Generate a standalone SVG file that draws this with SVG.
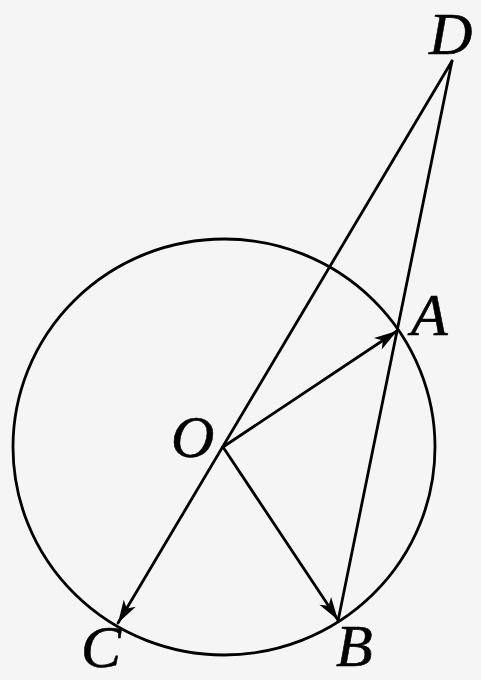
<svg xmlns="http://www.w3.org/2000/svg" width="481" height="680" viewBox="0 0 481 680">
<defs>
<style>
.ln{stroke:#000;stroke-width:2.8;fill:none;stroke-linecap:round}
.lb{font-family:"Liberation Serif","Times New Roman",serif;font-style:italic;font-size:60px;fill:#000;stroke:#000;stroke-width:0.6}
</style>
<marker id="ah" viewBox="-24 -8 26 16" refX="0" refY="0" markerWidth="26" markerHeight="16" markerUnits="userSpaceOnUse" orient="auto">
<path d="M0,0 L-23,-7 L-17,0 L-23,7 Z" fill="#000"/>
</marker>
</defs>
<rect width="481" height="680" fill="#f5f5f5"/>
<g id="circle">
<ellipse cx="224" cy="447" rx="211" ry="208" class="ln"/>
</g>
<g id="connectors">
<line x1="452" y1="61" x2="118" y2="623" class="ln" marker-end="url(#ah)"/>
<line x1="452" y1="61" x2="338" y2="621" class="ln"/>
<line x1="223" y1="447" x2="397" y2="331" class="ln" marker-end="url(#ah)"/>
<line x1="223" y1="447" x2="338" y2="620" class="ln" marker-end="url(#ah)"/>
</g>
<g id="D"><text class="lb" x="429" y="54">D</text></g>
<g id="A"><text class="lb" x="411" y="335">A</text></g>
<g id="O"><text class="lb" x="171" y="457">O</text></g>
<g id="B"><text class="lb" x="336" y="666">B</text></g>
<g id="C"><text class="lb" x="81" y="667">C</text></g>
</svg>
